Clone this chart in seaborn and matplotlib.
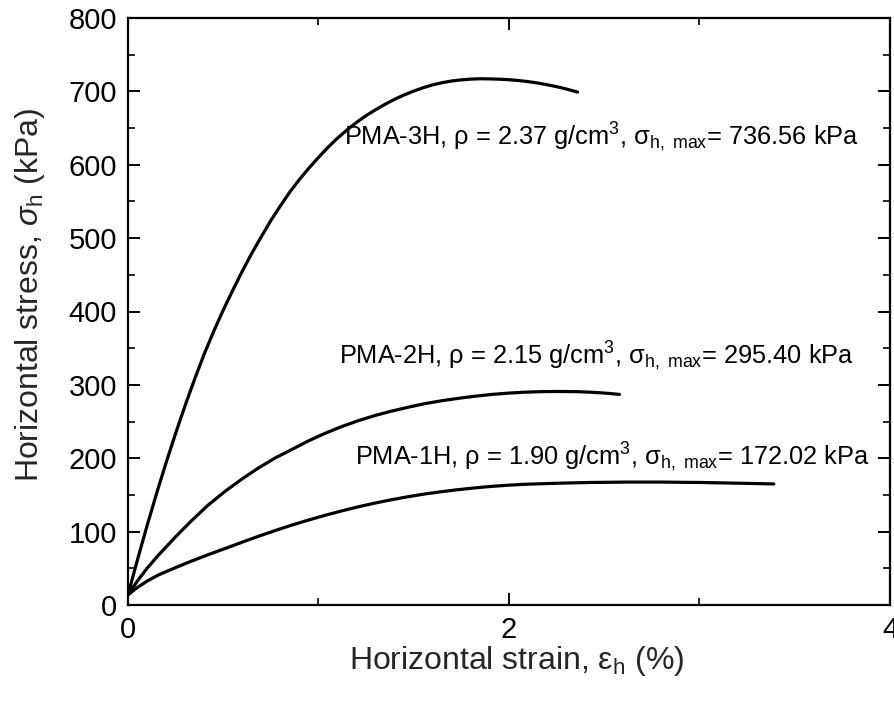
import matplotlib
matplotlib.use("Agg")
import matplotlib.pyplot as plt
import pandas as pd
import seaborn as sns
from matplotlib.ticker import MultipleLocator

# Stress-strain curves of the three specimens (strain in %, stress in kPa)
strain_1h = [0, 0.05, 0.10, 0.16, 0.25, 0.33, 0.42, 0.51, 0.60, 0.69, 0.78,
             0.86, 0.95, 1.03, 1.12, 1.21, 1.30, 1.38, 1.47, 1.56, 1.65,
             1.73, 1.82, 1.91, 2.00, 2.08, 2.26, 2.43, 2.61, 2.80, 3.00,
             3.20, 3.39]
stress_1h = [14, 24, 32.5, 41, 51, 59.5, 68.5, 77, 85.7, 94.1, 102.1,
             108.9, 116, 121.9, 128.1, 133.9, 139.1, 143.3, 147.6, 151.4, 154.6,
             157.1, 159.6, 161.7, 163.3, 164.5, 166, 167, 167.5, 167.5, 167,
             166, 165]

strain_2h = [0, 0.05, 0.10, 0.16, 0.25, 0.33, 0.42, 0.51, 0.60, 0.68, 0.77,
             0.86, 0.95, 1.03, 1.12, 1.21, 1.30, 1.38, 1.47, 1.56, 1.65,
             1.73, 1.82, 1.91, 2.00, 2.08, 2.17, 2.26, 2.35, 2.43, 2.51,
             2.58]
stress_2h = [14, 33, 50, 68, 93, 114, 136, 155, 172, 186, 200,
             212, 224, 233.5, 243, 251.3, 258.5, 264, 269.5, 274.5, 278.5,
             281.5, 284.5, 287, 288.8, 290, 290.8, 291, 290.8, 290, 288.7,
             287]

strain_3h = [0, 0.05, 0.10, 0.15, 0.20, 0.25, 0.30, 0.35, 0.40, 0.45, 0.50,
             0.55, 0.60, 0.65, 0.70, 0.75, 0.80, 0.85, 0.90, 0.95, 1.00,
             1.05, 1.10, 1.15, 1.20, 1.25, 1.30, 1.35, 1.40, 1.45, 1.50,
             1.55, 1.60, 1.65, 1.70, 1.75, 1.80, 1.85, 1.90, 1.95, 2.00,
             2.05, 2.10, 2.15, 2.20, 2.25, 2.30, 2.36]
stress_3h = [14, 62, 108, 152, 194, 234, 272, 308, 342, 373, 402,
             429, 455, 479.5, 502, 524, 544, 563, 580, 595.5, 610,
             623.8, 636.3, 647.5, 657.8, 667, 675, 682.5, 689.3, 695.2, 700.4,
             705, 708.9, 711.9, 714.2, 715.7, 716.7, 717.2, 717, 716.6, 715.9,
             714.8, 713.3, 711.4, 709.1, 706.4, 703.3, 699]

samples = ["PMA-1H", "PMA-2H", "PMA-3H"]
densities = [1.90, 2.15, 2.37]
peak_stress = [172.02, 295.40, 736.56]

# annotation anchors (strain, stress) for each specimen's label
label_x = [1.19, 1.105, 1.135]
label_y = [202, 339, 638]

x_ticks = [0, 2, 4]
y_ticks = [0, 100, 200, 300, 400, 500, 600, 700, 800]

sns.set_theme(style="ticks")
plt.rcParams["font.family"] = ["Liberation Sans", "DejaVu Sans"]
plt.rcParams["mathtext.fontset"] = "custom"
plt.rcParams["mathtext.rm"] = "Liberation Sans"
plt.rcParams["mathtext.it"] = "Liberation Sans:italic"
plt.rcParams["mathtext.bf"] = "Liberation Sans:bold"

frames = []
for name, xs, ys in zip(samples, [strain_1h, strain_2h, strain_3h],
                        [stress_1h, stress_2h, stress_3h]):
    frames.append(pd.DataFrame({"strain": xs, "stress": ys, "sample": name}))
df = pd.concat(frames, ignore_index=True)

fig = plt.figure(figsize=(8.95, 7.02), dpi=100)
ax = fig.add_axes([128 / 895, 97 / 702, 762 / 895, 587 / 702])

sns.lineplot(data=df, x="strain", y="stress", hue="sample",
             palette=["black"] * 3, linewidth=2.3, legend=False,
             estimator=None, sort=False, ax=ax)
for line in ax.get_lines():
    line.set_solid_joinstyle("round")
    line.set_solid_capstyle("round")

ax.set_xlim(0, 4)
ax.set_ylim(0, 800)
ax.set_xticks(x_ticks)
ax.set_xticklabels([str(v) for v in x_ticks])
ax.set_yticks(y_ticks)
ax.xaxis.set_minor_locator(MultipleLocator(1))
ax.yaxis.set_minor_locator(MultipleLocator(50))

ax.tick_params(which="both", direction="in", top=True, right=True,
               colors="black", labelsize=21)
ax.tick_params(which="major", length=8.5, width=1.4)
ax.tick_params(which="minor", length=5, width=1.2)
ax.tick_params(axis="y", pad=8)
ax.tick_params(axis="x", pad=8)
for side in ax.spines.values():
    side.set_linewidth(1.6)
    side.set_color("black")

ax.set_xlabel("Horizontal strain, $\\mathregular{ε_h}$ (%)", fontsize=23,
              va="center")
ax.set_ylabel("Horizontal stress, $\\sigma_\\mathregular{h}$ (kPa)",
              fontsize=23, va="center")
ax.xaxis.set_label_coords(0.51, -0.095)
ax.yaxis.set_label_coords(-0.128, 0.528)

for name, rho, peak, tx, ty in zip(samples, densities, peak_stress,
                                   label_x, label_y):
    text = (f"{name}, ρ = {rho:.2f} g/cm$^3$, "
            f"$\\mathregular{{σ_{{h,\\ max}}}}$= {peak:.2f} kPa")
    ax.text(tx, ty, text, fontsize=18.3, ha="left", va="center",
            color="black")

fig.savefig("out.png", dpi=100, facecolor="white")
